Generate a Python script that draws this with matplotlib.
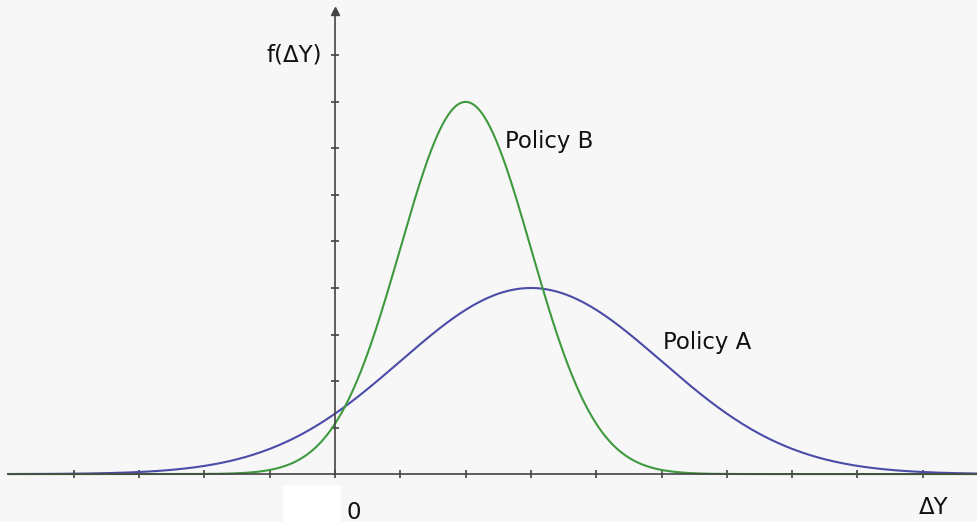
import numpy as np
import matplotlib.pyplot as plt
from matplotlib.patches import Rectangle

# Параметры кривых (в делениях осей)
policies = ["Policy A", "Policy B"]
means = [3.0, 2.0]
sigmas = [2.0, 1.0]
peaks = [4.0, 8.0]
colors = ["#4b4ba8", "#3f9a3f"]

x_ticks = list(range(-4, 10))
y_ticks = list(range(1, 10))

fig = plt.figure(figsize=(9.77, 5.22), dpi=100)
fig.patch.set_facecolor("#f7f7f7")
ax = fig.add_axes([0, 0, 1, 1])
ax.set_facecolor("#f7f7f7")
ax.set_xlim(-5.13, 9.83)
ax.set_ylim(-1.03, 10.19)

# Оси
for s in ["top", "right"]:
    ax.spines[s].set_visible(False)
ax.spines["left"].set_position(("data", 0))
ax.spines["bottom"].set_position(("data", 0))
ax.spines["left"].set_bounds(0, 9.9)
ax.spines["bottom"].set_bounds(-5, 9.83)
for s in ["left", "bottom"]:
    ax.spines[s].set_color("#444444")
    ax.spines[s].set_linewidth(1.2)
ax.set_xticks(x_ticks)
ax.set_yticks(y_ticks)
ax.tick_params(direction="inout", length=6, width=1.2, color="#444444",
               labelleft=False, labelbottom=False)
ax.plot([0], [9.95], marker="^", color="#444444", markersize=6, clip_on=False)

# Кривые
xs = np.linspace(-5, 9.83, 600)
for name, m, s, p, c in zip(policies, means, sigmas, peaks, colors):
    ax.plot(xs, p * np.exp(-(xs - m) ** 2 / (2 * s ** 2)), color=c, lw=1.5)

# Подписи
fs = 16.5
ax.text(5.02, 2.82, "Policy A", fontsize=fs, va="center", ha="left", color="#111111")
ax.text(2.6, 7.14, "Policy B", fontsize=fs, va="center", ha="left", color="#111111")
ax.text(-0.2, 9.0, "f(ΔY)", fontsize=fs, va="center", ha="right", color="#111111")
ax.text(9.16, -0.71, "ΔY", fontsize=fs, va="center", ha="center", color="#111111")

ax.add_patch(Rectangle((-0.8, -1.03), 0.89, 0.79, facecolor="white",
                       edgecolor="none", zorder=3))
ax.text(0.29, -0.82, "0", fontsize=fs, va="center", ha="center", color="#111111")

plt.savefig("out.png", dpi=100, facecolor=fig.get_facecolor())
